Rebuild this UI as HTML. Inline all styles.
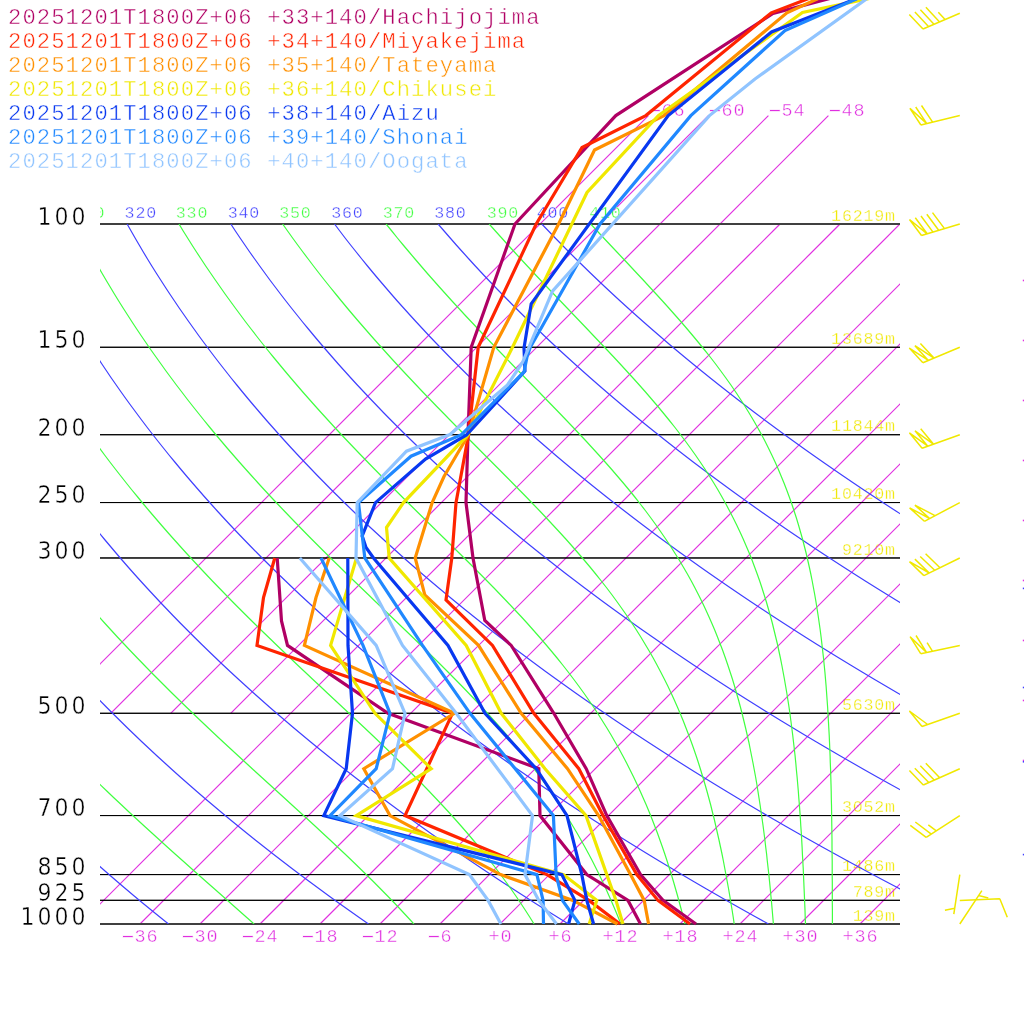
<!DOCTYPE html><html><head><meta charset="utf-8"><title>Emagram</title><style>html,body{margin:0;padding:0;background:#fff}svg{display:block}text{white-space:pre}</style></head><body>
<svg width="1024" height="1024" viewBox="0 0 1024 1024">
<rect width="1024" height="1024" fill="#fff"/>
<defs><clipPath id="cp"><rect x="100" y="224" width="800" height="700"/></clipPath><clipPath id="cl"><rect x="100" y="0" width="800" height="924"/></clipPath></defs>
<text y="220.70" font-family="'Liberation Mono',monospace" font-size="16.65px" fill="#f0e800" stroke="#fff" stroke-width="0.36" x="831.11" letter-spacing="0.810">16219m</text>
<text y="343.96" font-family="'Liberation Mono',monospace" font-size="16.65px" fill="#f0e800" stroke="#fff" stroke-width="0.36" x="831.11" letter-spacing="0.810">13689m</text>
<text y="431.42" font-family="'Liberation Mono',monospace" font-size="16.65px" fill="#f0e800" stroke="#fff" stroke-width="0.36" x="831.11" letter-spacing="0.810">11844m</text>
<text y="499.26" font-family="'Liberation Mono',monospace" font-size="16.65px" fill="#f0e800" stroke="#fff" stroke-width="0.36" x="831.11" letter-spacing="0.810">10420m</text>
<text y="554.68" font-family="'Liberation Mono',monospace" font-size="16.65px" fill="#f0e800" stroke="#fff" stroke-width="0.36" x="841.90" letter-spacing="0.810">9210m</text>
<text y="709.98" font-family="'Liberation Mono',monospace" font-size="16.65px" fill="#f0e800" stroke="#fff" stroke-width="0.36" x="841.90" letter-spacing="0.810">5630m</text>
<text y="812.27" font-family="'Liberation Mono',monospace" font-size="16.65px" fill="#f0e800" stroke="#fff" stroke-width="0.36" x="841.90" letter-spacing="0.810">3052m</text>
<text y="871.29" font-family="'Liberation Mono',monospace" font-size="16.65px" fill="#f0e800" stroke="#fff" stroke-width="0.36" x="841.90" letter-spacing="0.810">1486m</text>
<text y="897.00" font-family="'Liberation Mono',monospace" font-size="16.65px" fill="#f0e800" stroke="#fff" stroke-width="0.36" x="852.70" letter-spacing="0.810">789m</text>
<text y="920.70" font-family="'Liberation Mono',monospace" font-size="16.65px" fill="#f0e800" stroke="#fff" stroke-width="0.36" x="852.70" letter-spacing="0.810">139m</text>
<g stroke="#e030e0" stroke-width="1.2" fill="none">
<g clip-path="url(#cl)">
<line x1="80.0" y1="924" x2="780.0" y2="224"/>
<line x1="140.0" y1="924" x2="840.0" y2="224"/>
<line x1="200.0" y1="924" x2="900.0" y2="224"/>
<line x1="260.0" y1="924" x2="960.0" y2="224"/>
<line x1="320.0" y1="924" x2="1020.0" y2="224"/>
<line x1="380.0" y1="924" x2="1080.0" y2="224"/>
<line x1="440.0" y1="924" x2="1140.0" y2="224"/>
<line x1="500.0" y1="924" x2="1200.0" y2="224"/>
<line x1="560.0" y1="924" x2="1260.0" y2="224"/>
<line x1="620.0" y1="924" x2="1320.0" y2="224"/>
<line x1="680.0" y1="924" x2="1380.0" y2="224"/>
<line x1="740.0" y1="924" x2="1440.0" y2="224"/>
<line x1="800.0" y1="924" x2="1500.0" y2="224"/>
<line x1="860.0" y1="924" x2="1560.0" y2="224"/>
<line x1="50.7" y1="713.3" x2="648.4" y2="115.6"/>
<line x1="110.7" y1="713.3" x2="708.4" y2="115.6"/>
<line x1="170.7" y1="713.3" x2="768.4" y2="115.6"/>
<line x1="230.7" y1="713.3" x2="828.4" y2="115.6"/>
</g></g>
<g stroke="#000" stroke-width="1">
<line x1="100" y1="347.26" x2="900" y2="347.26"/>
<line x1="100" y1="347.26" x2="900" y2="347.26"/>
<line x1="100" y1="434.72" x2="900" y2="434.72"/>
<line x1="100" y1="434.72" x2="900" y2="434.72"/>
<line x1="100" y1="502.56" x2="900" y2="502.56"/>
<line x1="100" y1="502.56" x2="900" y2="502.56"/>
<line x1="100" y1="557.98" x2="900" y2="557.98"/>
<line x1="100" y1="557.98" x2="900" y2="557.98"/>
<line x1="100" y1="713.28" x2="900" y2="713.28"/>
<line x1="100" y1="713.28" x2="900" y2="713.28"/>
<line x1="100" y1="815.57" x2="900" y2="815.57"/>
<line x1="100" y1="815.57" x2="900" y2="815.57"/>
<line x1="100" y1="874.59" x2="900" y2="874.59"/>
<line x1="100" y1="874.59" x2="900" y2="874.59"/>
<line x1="100" y1="900.30" x2="900" y2="900.30"/>
<line x1="100" y1="900.30" x2="900" y2="900.30"/>
</g>
<g stroke="#404040" stroke-width="2"><line x1="100" y1="224" x2="900" y2="224"/><line x1="100" y1="924" x2="900" y2="924"/></g>
<g clip-path="url(#cp)" fill="none" stroke-width="1.2">
<polyline stroke="#4040ff" points="-391.2,224.0 -390.7,231.0 -390.1,238.0 -389.5,245.0 -388.8,252.0 -388.1,259.0 -387.3,266.0 -386.5,273.0 -385.6,280.0 -384.7,287.0 -383.7,294.0 -382.7,301.0 -381.6,308.0 -380.5,315.0 -379.3,322.0 -378.1,329.0 -376.8,336.0 -375.4,343.0 -374.0,350.0 -372.5,357.0 -371.0,364.0 -369.4,371.0 -367.8,378.0 -366.1,385.0 -364.4,392.0 -362.6,399.0 -360.7,406.0 -358.8,413.0 -356.8,420.0 -354.8,427.0 -352.7,434.0 -350.5,441.0 -348.3,448.0 -346.0,455.0 -343.7,462.0 -341.3,469.0 -338.8,476.0 -336.3,483.0 -333.7,490.0 -331.1,497.0 -328.4,504.0 -325.6,511.0 -322.7,518.0 -319.8,525.0 -316.9,532.0 -313.8,539.0 -310.7,546.0 -307.5,553.0 -304.3,560.0 -301.0,567.0 -297.6,574.0 -294.2,581.0 -290.7,588.0 -287.1,595.0 -283.4,602.0 -279.7,609.0 -275.9,616.0 -272.1,623.0 -268.1,630.0 -264.1,637.0 -260.0,644.0 -255.9,651.0 -251.7,658.0 -247.4,665.0 -243.0,672.0 -238.5,679.0 -234.0,686.0 -229.4,693.0 -224.7,700.0 -220.0,707.0 -215.1,714.0 -210.2,721.0 -205.2,728.0 -200.2,735.0 -195.0,742.0 -189.8,749.0 -184.5,756.0 -179.1,763.0 -173.6,770.0 -168.1,777.0 -162.5,784.0 -156.7,791.0 -150.9,798.0 -145.0,805.0 -139.1,812.0 -133.0,819.0 -126.9,826.0 -120.6,833.0 -114.3,840.0 -107.9,847.0 -101.4,854.0 -94.8,861.0 -88.2,868.0 -81.4,875.0 -74.6,882.0 -67.6,889.0 -60.6,896.0 -53.4,903.0 -46.2,910.0 -38.9,917.0 -31.5,924.0"/>
<polyline stroke="#4040ff" points="-287.5,224.0 -286.3,231.0 -285.1,238.0 -283.8,245.0 -282.4,252.0 -281.0,259.0 -279.5,266.0 -278.0,273.0 -276.4,280.0 -274.7,287.0 -273.0,294.0 -271.3,301.0 -269.5,308.0 -267.6,315.0 -265.6,322.0 -263.7,329.0 -261.6,336.0 -259.5,343.0 -257.3,350.0 -255.1,357.0 -252.8,364.0 -250.4,371.0 -248.0,378.0 -245.6,385.0 -243.0,392.0 -240.4,399.0 -237.7,406.0 -235.0,413.0 -232.2,420.0 -229.4,427.0 -226.4,434.0 -223.4,441.0 -220.4,448.0 -217.3,455.0 -214.1,462.0 -210.8,469.0 -207.5,476.0 -204.1,483.0 -200.7,490.0 -197.1,497.0 -193.5,504.0 -189.9,511.0 -186.1,518.0 -182.3,525.0 -178.4,532.0 -174.5,539.0 -170.5,546.0 -166.4,553.0 -162.2,560.0 -157.9,567.0 -153.6,574.0 -149.2,581.0 -144.8,588.0 -140.2,595.0 -135.6,602.0 -130.9,609.0 -126.1,616.0 -121.3,623.0 -116.4,630.0 -111.4,637.0 -106.3,644.0 -101.1,651.0 -95.9,658.0 -90.5,665.0 -85.1,672.0 -79.6,679.0 -74.1,686.0 -68.4,693.0 -62.7,700.0 -56.8,707.0 -50.9,714.0 -44.9,721.0 -38.9,728.0 -32.7,735.0 -26.4,742.0 -20.1,749.0 -13.7,756.0 -7.2,763.0 -0.6,770.0 6.1,777.0 12.9,784.0 19.8,791.0 26.8,798.0 33.8,805.0 41.0,812.0 48.2,819.0 55.5,826.0 63.0,833.0 70.5,840.0 78.1,847.0 85.9,854.0 93.7,861.0 101.6,868.0 109.6,875.0 117.7,882.0 125.9,889.0 134.2,896.0 142.6,903.0 151.2,910.0 159.8,917.0 168.5,924.0"/>
<polyline stroke="#4040ff" points="-183.9,224.0 -182.0,231.0 -180.0,238.0 -178.0,245.0 -176.0,252.0 -173.8,259.0 -171.7,266.0 -169.4,273.0 -167.1,280.0 -164.8,287.0 -162.3,294.0 -159.8,301.0 -157.3,308.0 -154.7,315.0 -152.0,322.0 -149.3,329.0 -146.4,336.0 -143.6,343.0 -140.6,350.0 -137.6,357.0 -134.6,364.0 -131.4,371.0 -128.2,378.0 -125.0,385.0 -121.6,392.0 -118.2,399.0 -114.8,406.0 -111.2,413.0 -107.6,420.0 -103.9,427.0 -100.2,434.0 -96.4,441.0 -92.5,448.0 -88.5,455.0 -84.5,462.0 -80.4,469.0 -76.2,476.0 -71.9,483.0 -67.6,490.0 -63.2,497.0 -58.7,504.0 -54.1,511.0 -49.5,518.0 -44.8,525.0 -40.0,532.0 -35.1,539.0 -30.2,546.0 -25.2,553.0 -20.1,560.0 -14.9,567.0 -9.6,574.0 -4.3,581.0 1.1,588.0 6.6,595.0 12.2,602.0 17.9,609.0 23.6,616.0 29.5,623.0 35.4,630.0 41.4,637.0 47.5,644.0 53.7,651.0 59.9,658.0 66.3,665.0 72.7,672.0 79.3,679.0 85.9,686.0 92.6,693.0 99.4,700.0 106.3,707.0 113.3,714.0 120.4,721.0 127.5,728.0 134.8,735.0 142.1,742.0 149.6,749.0 157.1,756.0 164.8,763.0 172.5,770.0 180.3,777.0 188.3,784.0 196.3,791.0 204.4,798.0 212.7,805.0 221.0,812.0 229.4,819.0 238.0,826.0 246.6,833.0 255.3,840.0 264.2,847.0 273.1,854.0 282.2,861.0 291.3,868.0 300.6,875.0 310.0,882.0 319.5,889.0 329.0,896.0 338.7,903.0 348.6,910.0 358.5,917.0 368.5,924.0"/>
<polyline stroke="#4040ff" points="-80.2,224.0 -77.6,231.0 -75.0,238.0 -72.3,245.0 -69.5,252.0 -66.7,259.0 -63.8,266.0 -60.9,273.0 -57.9,280.0 -54.8,287.0 -51.6,294.0 -48.4,301.0 -45.1,308.0 -41.8,315.0 -38.3,322.0 -34.8,329.0 -31.3,336.0 -27.7,343.0 -24.0,350.0 -20.2,357.0 -16.3,364.0 -12.4,371.0 -8.4,378.0 -4.4,385.0 -0.3,392.0 3.9,399.0 8.2,406.0 12.6,413.0 17.0,420.0 21.5,427.0 26.1,434.0 30.7,441.0 35.5,448.0 40.3,455.0 45.2,462.0 50.1,469.0 55.2,476.0 60.3,483.0 65.5,490.0 70.8,497.0 76.1,504.0 81.6,511.0 87.1,518.0 92.7,525.0 98.4,532.0 104.2,539.0 110.1,546.0 116.0,553.0 122.0,560.0 128.1,567.0 134.3,574.0 140.6,581.0 147.0,588.0 153.5,595.0 160.0,602.0 166.7,609.0 173.4,616.0 180.2,623.0 187.2,630.0 194.2,637.0 201.3,644.0 208.5,651.0 215.8,658.0 223.1,665.0 230.6,672.0 238.2,679.0 245.9,686.0 253.6,693.0 261.5,700.0 269.4,707.0 277.5,714.0 285.7,721.0 293.9,728.0 302.3,735.0 310.7,742.0 319.3,749.0 328.0,756.0 336.7,763.0 345.6,770.0 354.6,777.0 363.7,784.0 372.8,791.0 382.1,798.0 391.5,805.0 401.0,812.0 410.7,819.0 420.4,826.0 430.2,833.0 440.2,840.0 450.2,847.0 460.4,854.0 470.7,861.0 481.1,868.0 491.6,875.0 502.2,882.0 513.0,889.0 523.9,896.0 534.8,903.0 545.9,910.0 557.2,917.0 568.5,924.0"/>
<polyline stroke="#4040ff" points="23.5,224.0 26.7,231.0 30.0,238.0 33.4,245.0 36.9,252.0 40.4,259.0 44.0,266.0 47.7,273.0 51.4,280.0 55.2,287.0 59.1,294.0 63.0,301.0 67.1,308.0 71.1,315.0 75.3,322.0 79.6,329.0 83.9,336.0 88.3,343.0 92.7,350.0 97.3,357.0 101.9,364.0 106.6,371.0 111.3,378.0 116.2,385.0 121.1,392.0 126.1,399.0 131.2,406.0 136.4,413.0 141.6,420.0 146.9,427.0 152.3,434.0 157.8,441.0 163.4,448.0 169.0,455.0 174.8,462.0 180.6,469.0 186.5,476.0 192.5,483.0 198.6,490.0 204.7,497.0 211.0,504.0 217.3,511.0 223.7,518.0 230.2,525.0 236.8,532.0 243.5,539.0 250.3,546.0 257.2,553.0 264.1,560.0 271.2,567.0 278.3,574.0 285.6,581.0 292.9,588.0 300.3,595.0 307.9,602.0 315.5,609.0 323.2,616.0 331.0,623.0 338.9,630.0 346.9,637.0 355.0,644.0 363.2,651.0 371.6,658.0 380.0,665.0 388.5,672.0 397.1,679.0 405.8,686.0 414.6,693.0 423.5,700.0 432.6,707.0 441.7,714.0 450.9,721.0 460.3,728.0 469.8,735.0 479.3,742.0 489.0,749.0 498.8,756.0 508.7,763.0 518.7,770.0 528.8,777.0 539.0,784.0 549.4,791.0 559.8,798.0 570.4,805.0 581.1,812.0 591.9,819.0 602.8,826.0 613.9,833.0 625.0,840.0 636.3,847.0 647.7,854.0 659.2,861.0 670.9,868.0 682.6,875.0 694.5,882.0 706.5,889.0 718.7,896.0 730.9,903.0 743.3,910.0 755.8,917.0 768.5,924.0"/>
<polyline stroke="#4040ff" points="127.1,224.0 131.1,231.0 135.1,238.0 139.2,245.0 143.3,252.0 147.5,259.0 151.8,266.0 156.2,273.0 160.7,280.0 165.2,287.0 169.8,294.0 174.5,301.0 179.2,308.0 184.1,315.0 189.0,322.0 194.0,329.0 199.0,336.0 204.2,343.0 209.4,350.0 214.7,357.0 220.1,364.0 225.6,371.0 231.1,378.0 236.8,385.0 242.5,392.0 248.3,399.0 254.2,406.0 260.2,413.0 266.2,420.0 272.4,427.0 278.6,434.0 284.9,441.0 291.3,448.0 297.8,455.0 304.4,462.0 311.1,469.0 317.8,476.0 324.7,483.0 331.6,490.0 338.7,497.0 345.8,504.0 353.0,511.0 360.3,518.0 367.7,525.0 375.3,532.0 382.9,539.0 390.6,546.0 398.4,553.0 406.2,560.0 414.2,567.0 422.3,574.0 430.5,581.0 438.8,588.0 447.2,595.0 455.7,602.0 464.3,609.0 473.0,616.0 481.8,623.0 490.7,630.0 499.7,637.0 508.8,644.0 518.0,651.0 527.4,658.0 536.8,665.0 546.3,672.0 556.0,679.0 565.8,686.0 575.6,693.0 585.6,700.0 595.7,707.0 605.9,714.0 616.2,721.0 626.7,728.0 637.2,735.0 647.9,742.0 658.7,749.0 669.6,756.0 680.6,763.0 691.7,770.0 703.0,777.0 714.4,784.0 725.9,791.0 737.5,798.0 749.3,805.0 761.1,812.0 773.1,819.0 785.2,826.0 797.5,833.0 809.8,840.0 822.3,847.0 835.0,854.0 847.7,861.0 860.6,868.0 873.6,875.0 886.8,882.0 900.1,889.0 913.5,896.0 927.0,903.0 940.7,910.0 954.5,917.0 968.5,924.0"/>
<polyline stroke="#4040ff" points="230.8,224.0 235.4,231.0 240.1,238.0 244.9,245.0 249.7,252.0 254.7,259.0 259.7,266.0 264.8,273.0 269.9,280.0 275.2,287.0 280.5,294.0 285.9,301.0 291.4,308.0 297.0,315.0 302.6,322.0 308.4,329.0 314.2,336.0 320.1,343.0 326.1,350.0 332.2,357.0 338.3,364.0 344.6,371.0 350.9,378.0 357.3,385.0 363.9,392.0 370.5,399.0 377.2,406.0 383.9,413.0 390.8,420.0 397.8,427.0 404.8,434.0 412.0,441.0 419.2,448.0 426.6,455.0 434.0,462.0 441.5,469.0 449.2,476.0 456.9,483.0 464.7,490.0 472.6,497.0 480.6,504.0 488.7,511.0 497.0,518.0 505.3,525.0 513.7,532.0 522.2,539.0 530.8,546.0 539.5,553.0 548.4,560.0 557.3,567.0 566.3,574.0 575.5,581.0 584.7,588.0 594.1,595.0 603.5,602.0 613.1,609.0 622.8,616.0 632.5,623.0 642.4,630.0 652.5,637.0 662.6,644.0 672.8,651.0 683.2,658.0 693.6,665.0 704.2,672.0 714.9,679.0 725.7,686.0 736.6,693.0 747.7,700.0 758.9,707.0 770.1,714.0 781.5,721.0 793.1,728.0 804.7,735.0 816.5,742.0 828.4,749.0 840.4,756.0 852.6,763.0 864.8,770.0 877.2,777.0 889.8,784.0 902.4,791.0 915.2,798.0 928.1,805.0 941.2,812.0 954.3,819.0 967.7,826.0 981.1,833.0 994.7,840.0 1008.4,847.0 1022.2,854.0 1036.2,861.0 1050.4,868.0 1064.6,875.0 1079.0,882.0 1093.6,889.0 1108.3,896.0 1123.1,903.0 1138.1,910.0 1153.2,917.0 1168.5,924.0"/>
<polyline stroke="#4040ff" points="334.5,224.0 339.8,231.0 345.1,238.0 350.6,245.0 356.2,252.0 361.8,259.0 367.5,266.0 373.3,273.0 379.2,280.0 385.2,287.0 391.2,294.0 397.3,301.0 403.6,308.0 409.9,315.0 416.3,322.0 422.8,329.0 429.3,336.0 436.0,343.0 442.8,350.0 449.6,357.0 456.6,364.0 463.6,371.0 470.7,378.0 477.9,385.0 485.2,392.0 492.6,399.0 500.1,406.0 507.7,413.0 515.4,420.0 523.2,427.0 531.1,434.0 539.1,441.0 547.2,448.0 555.3,455.0 563.6,462.0 572.0,469.0 580.5,476.0 589.1,483.0 597.8,490.0 606.6,497.0 615.5,504.0 624.5,511.0 633.6,518.0 642.8,525.0 652.1,532.0 661.5,539.0 671.1,546.0 680.7,553.0 690.5,560.0 700.3,567.0 710.3,574.0 720.4,581.0 730.6,588.0 740.9,595.0 751.3,602.0 761.9,609.0 772.5,616.0 783.3,623.0 794.2,630.0 805.2,637.0 816.3,644.0 827.6,651.0 839.0,658.0 850.5,665.0 862.1,672.0 873.8,679.0 885.7,686.0 897.6,693.0 909.8,700.0 922.0,707.0 934.4,714.0 946.8,721.0 959.5,728.0 972.2,735.0 985.1,742.0 998.1,749.0 1011.2,756.0 1024.5,763.0 1037.9,770.0 1051.4,777.0 1065.1,784.0 1078.9,791.0 1092.9,798.0 1107.0,805.0 1121.2,812.0 1135.6,819.0 1150.1,826.0 1164.7,833.0 1179.5,840.0 1194.4,847.0 1209.5,854.0 1224.8,861.0 1240.1,868.0 1255.6,875.0 1271.3,882.0 1287.1,889.0 1303.1,896.0 1319.2,903.0 1335.5,910.0 1351.9,917.0 1368.5,924.0"/>
<polyline stroke="#4040ff" points="438.1,224.0 444.1,231.0 450.2,238.0 456.3,245.0 462.6,252.0 468.9,259.0 475.3,266.0 481.8,273.0 488.4,280.0 495.1,287.0 501.9,294.0 508.8,301.0 515.7,308.0 522.8,315.0 529.9,322.0 537.2,329.0 544.5,336.0 551.9,343.0 559.4,350.0 567.1,357.0 574.8,364.0 582.6,371.0 590.5,378.0 598.5,385.0 606.6,392.0 614.8,399.0 623.1,406.0 631.5,413.0 640.0,420.0 648.6,427.0 657.4,434.0 666.2,441.0 675.1,448.0 684.1,455.0 693.2,462.0 702.5,469.0 711.8,476.0 721.3,483.0 730.8,490.0 740.5,497.0 750.3,504.0 760.2,511.0 770.2,518.0 780.3,525.0 790.5,532.0 800.9,539.0 811.3,546.0 821.9,553.0 832.6,560.0 843.4,567.0 854.3,574.0 865.3,581.0 876.5,588.0 887.8,595.0 899.2,602.0 910.7,609.0 922.3,616.0 934.1,623.0 946.0,630.0 958.0,637.0 970.1,644.0 982.4,651.0 994.8,658.0 1007.3,665.0 1019.9,672.0 1032.7,679.0 1045.6,686.0 1058.7,693.0 1071.8,700.0 1085.1,707.0 1098.6,714.0 1112.1,721.0 1125.8,728.0 1139.7,735.0 1153.7,742.0 1167.8,749.0 1182.0,756.0 1196.4,763.0 1211.0,770.0 1225.7,777.0 1240.5,784.0 1255.5,791.0 1270.6,798.0 1285.8,805.0 1301.2,812.0 1316.8,819.0 1332.5,826.0 1348.3,833.0 1364.3,840.0 1380.5,847.0 1396.8,854.0 1413.3,861.0 1429.9,868.0 1446.7,875.0 1463.6,882.0 1480.7,889.0 1497.9,896.0 1515.3,903.0 1532.9,910.0 1550.6,917.0 1568.5,924.0"/>
<polyline stroke="#4040ff" points="541.8,224.0 548.5,231.0 555.2,238.0 562.1,245.0 569.0,252.0 576.0,259.0 583.2,266.0 590.4,273.0 597.7,280.0 605.1,287.0 612.6,294.0 620.2,301.0 627.9,308.0 635.7,315.0 643.6,322.0 651.6,329.0 659.7,336.0 667.8,343.0 676.1,350.0 684.5,357.0 693.0,364.0 701.6,371.0 710.3,378.0 719.1,385.0 728.0,392.0 737.0,399.0 746.1,406.0 755.3,413.0 764.6,420.0 774.1,427.0 783.6,434.0 793.3,441.0 803.0,448.0 812.9,455.0 822.9,462.0 833.0,469.0 843.2,476.0 853.5,483.0 863.9,490.0 874.5,497.0 885.1,504.0 895.9,511.0 906.8,518.0 917.8,525.0 928.9,532.0 940.2,539.0 951.6,546.0 963.1,553.0 974.7,560.0 986.4,567.0 998.3,574.0 1010.3,581.0 1022.4,588.0 1034.6,595.0 1047.0,602.0 1059.5,609.0 1072.1,616.0 1084.9,623.0 1097.7,630.0 1110.7,637.0 1123.9,644.0 1137.2,651.0 1150.6,658.0 1164.1,665.0 1177.8,672.0 1191.6,679.0 1205.6,686.0 1219.7,693.0 1233.9,700.0 1248.3,707.0 1262.8,714.0 1277.4,721.0 1292.2,728.0 1307.2,735.0 1322.3,742.0 1337.5,749.0 1352.9,756.0 1368.4,763.0 1384.1,770.0 1399.9,777.0 1415.9,784.0 1432.0,791.0 1448.3,798.0 1464.7,805.0 1481.3,812.0 1498.0,819.0 1514.9,826.0 1532.0,833.0 1549.2,840.0 1566.6,847.0 1584.1,854.0 1601.8,861.0 1619.6,868.0 1637.7,875.0 1655.9,882.0 1674.2,889.0 1692.7,896.0 1711.4,903.0 1730.3,910.0 1749.3,917.0 1768.5,924.0"/>
<polyline stroke="#40ff40" points="-339.4,224.0 -338.5,231.0 -337.6,238.0 -336.6,245.0 -335.6,252.0 -334.5,259.0 -333.4,266.0 -332.2,273.0 -331.0,280.0 -329.7,287.0 -328.4,294.0 -327.0,301.0 -325.5,308.0 -324.0,315.0 -322.5,322.0 -320.9,329.0 -319.2,336.0 -317.5,343.0 -315.7,350.0 -313.8,357.0 -311.9,364.0 -309.9,371.0 -307.9,378.0 -305.8,385.0 -303.7,392.0 -301.5,399.0 -299.2,406.0 -296.9,413.0 -294.5,420.0 -292.1,427.0 -289.6,434.0 -287.0,441.0 -284.4,448.0 -281.7,455.0 -278.9,462.0 -276.1,469.0 -273.2,476.0 -270.2,483.0 -267.2,490.0 -264.1,497.0 -260.9,504.0 -257.7,511.0 -254.4,518.0 -251.1,525.0 -247.6,532.0 -244.1,539.0 -240.6,546.0 -236.9,553.0 -233.2,560.0 -229.5,567.0 -225.6,574.0 -221.7,581.0 -217.7,588.0 -213.7,595.0 -209.5,602.0 -205.3,609.0 -201.0,616.0 -196.7,623.0 -192.2,630.0 -187.7,637.0 -183.2,644.0 -178.5,651.0 -173.8,658.0 -168.9,665.0 -164.1,672.0 -159.1,679.0 -154.0,686.0 -148.9,693.0 -143.7,700.0 -138.4,707.0 -133.1,714.0 -127.6,721.0 -122.1,728.0 -116.5,735.0 -110.8,742.0 -105.0,749.0 -99.1,756.0 -93.2,763.0 -87.2,770.0 -81.1,777.0 -74.9,784.0 -68.6,791.0 -62.2,798.0 -55.8,805.0 -49.3,812.0 -42.7,819.0 -36.0,826.0 -29.2,833.0 -22.3,840.0 -15.4,847.0 -8.3,854.0 -1.2,861.0 6.0,868.0 13.2,875.0 20.6,882.0 28.0,889.0 35.5,896.0 43.1,903.0 50.7,910.0 58.4,917.0 66.2,924.0"/>
<polyline stroke="#40ff40" points="-235.7,224.0 -234.2,231.0 -232.6,238.0 -230.9,245.0 -229.2,252.0 -227.4,259.0 -225.6,266.0 -223.7,273.0 -221.7,280.0 -219.7,287.0 -217.7,294.0 -215.6,301.0 -213.4,308.0 -211.1,315.0 -208.8,322.0 -206.5,329.0 -204.0,336.0 -201.5,343.0 -199.0,350.0 -196.4,357.0 -193.7,364.0 -190.9,371.0 -188.1,378.0 -185.3,385.0 -182.3,392.0 -179.3,399.0 -176.3,406.0 -173.1,413.0 -169.9,420.0 -166.6,427.0 -163.3,434.0 -159.9,441.0 -156.4,448.0 -152.9,455.0 -149.3,462.0 -145.6,469.0 -141.8,476.0 -138.0,483.0 -134.1,490.0 -130.2,497.0 -126.1,504.0 -122.0,511.0 -117.8,518.0 -113.6,525.0 -109.2,532.0 -104.8,539.0 -100.3,546.0 -95.8,553.0 -91.1,560.0 -86.4,567.0 -81.6,574.0 -76.8,581.0 -71.8,588.0 -66.8,595.0 -61.7,602.0 -56.5,609.0 -51.3,616.0 -45.9,623.0 -40.5,630.0 -35.0,637.0 -29.4,644.0 -23.8,651.0 -18.0,658.0 -12.2,665.0 -6.3,672.0 -0.3,679.0 5.8,686.0 12.0,693.0 18.2,700.0 24.5,707.0 30.9,714.0 37.4,721.0 44.0,728.0 50.7,735.0 57.4,742.0 64.2,749.0 71.1,756.0 78.1,763.0 85.2,770.0 92.3,777.0 99.5,784.0 106.8,791.0 114.1,798.0 121.6,805.0 129.0,812.0 136.6,819.0 144.2,826.0 151.9,833.0 159.6,840.0 167.3,847.0 175.1,854.0 183.0,861.0 190.8,868.0 198.7,875.0 206.6,882.0 214.6,889.0 222.5,896.0 230.4,903.0 238.3,910.0 246.2,917.0 254.1,924.0"/>
<polyline stroke="#40ff40" points="-132.0,224.0 -129.8,231.0 -127.5,238.0 -125.2,245.0 -122.8,252.0 -120.3,259.0 -117.7,266.0 -115.1,273.0 -112.5,280.0 -109.8,287.0 -107.0,294.0 -104.1,301.0 -101.2,308.0 -98.2,315.0 -95.2,322.0 -92.1,329.0 -88.9,336.0 -85.6,343.0 -82.3,350.0 -78.9,357.0 -75.5,364.0 -71.9,371.0 -68.3,378.0 -64.7,385.0 -61.0,392.0 -57.1,399.0 -53.3,406.0 -49.3,413.0 -45.3,420.0 -41.2,427.0 -37.1,434.0 -32.8,441.0 -28.5,448.0 -24.1,455.0 -19.7,462.0 -15.1,469.0 -10.5,476.0 -5.8,483.0 -1.1,490.0 3.8,497.0 8.7,504.0 13.7,511.0 18.8,518.0 23.9,525.0 29.2,532.0 34.5,539.0 39.9,546.0 45.4,553.0 50.9,560.0 56.6,567.0 62.3,574.0 68.1,581.0 74.0,588.0 79.9,595.0 86.0,602.0 92.1,609.0 98.3,616.0 104.6,623.0 111.0,630.0 117.4,637.0 124.0,644.0 130.6,651.0 137.3,658.0 144.1,665.0 150.9,672.0 157.9,679.0 164.9,686.0 171.9,693.0 179.1,700.0 186.3,707.0 193.6,714.0 200.9,721.0 208.3,728.0 215.7,735.0 223.2,742.0 230.8,749.0 238.4,756.0 246.0,763.0 253.6,770.0 261.3,777.0 269.0,784.0 276.7,791.0 284.4,798.0 292.0,805.0 299.7,812.0 307.4,819.0 315.0,826.0 322.5,833.0 330.1,840.0 337.5,847.0 345.0,854.0 352.3,861.0 359.5,868.0 366.7,875.0 373.8,882.0 380.7,889.0 387.6,896.0 394.4,903.0 401.0,910.0 407.5,917.0 413.9,924.0"/>
<polyline stroke="#40ff40" points="-28.4,224.0 -25.5,231.0 -22.5,238.0 -19.4,245.0 -16.3,252.0 -13.2,259.0 -9.9,266.0 -6.6,273.0 -3.2,280.0 0.2,287.0 3.7,294.0 7.3,301.0 11.0,308.0 14.7,315.0 18.5,322.0 22.4,329.0 26.3,336.0 30.3,343.0 34.4,350.0 38.5,357.0 42.8,364.0 47.1,371.0 51.4,378.0 55.9,385.0 60.4,392.0 65.0,399.0 69.7,406.0 74.5,413.0 79.3,420.0 84.2,427.0 89.2,434.0 94.3,441.0 99.4,448.0 104.6,455.0 109.9,462.0 115.3,469.0 120.8,476.0 126.3,483.0 131.9,490.0 137.7,497.0 143.4,504.0 149.3,511.0 155.3,518.0 161.3,525.0 167.4,532.0 173.6,539.0 179.9,546.0 186.2,553.0 192.7,560.0 199.2,567.0 205.8,574.0 212.4,581.0 219.2,588.0 226.0,595.0 232.8,602.0 239.8,609.0 246.8,616.0 253.9,623.0 261.0,630.0 268.3,637.0 275.5,644.0 282.8,651.0 290.2,658.0 297.5,665.0 305.0,672.0 312.4,679.0 319.9,686.0 327.3,693.0 334.8,700.0 342.3,707.0 349.8,714.0 357.2,721.0 364.7,728.0 372.1,735.0 379.4,742.0 386.7,749.0 393.9,756.0 401.1,763.0 408.2,770.0 415.2,777.0 422.1,784.0 428.9,791.0 435.5,798.0 442.1,805.0 448.6,812.0 454.9,819.0 461.1,826.0 467.2,833.0 473.1,840.0 479.0,847.0 484.6,854.0 490.2,861.0 495.6,868.0 500.9,875.0 506.0,882.0 511.0,889.0 515.9,896.0 520.6,903.0 525.2,910.0 529.7,917.0 534.1,924.0"/>
<polyline stroke="#40ff40" points="75.3,224.0 78.9,231.0 82.6,238.0 86.3,245.0 90.1,252.0 94.0,259.0 97.9,266.0 101.9,273.0 106.0,280.0 110.2,287.0 114.4,294.0 118.7,301.0 123.1,308.0 127.6,315.0 132.1,322.0 136.7,329.0 141.4,336.0 146.2,343.0 151.0,350.0 156.0,357.0 161.0,364.0 166.0,371.0 171.2,378.0 176.4,385.0 181.8,392.0 187.1,399.0 192.6,406.0 198.2,413.0 203.8,420.0 209.5,427.0 215.3,434.0 221.2,441.0 227.1,448.0 233.2,455.0 239.3,462.0 245.5,469.0 251.8,476.0 258.1,483.0 264.5,490.0 271.0,497.0 277.6,504.0 284.3,511.0 291.0,518.0 297.8,525.0 304.6,532.0 311.5,539.0 318.5,546.0 325.5,553.0 332.6,560.0 339.8,567.0 346.9,574.0 354.1,581.0 361.4,588.0 368.7,595.0 375.9,602.0 383.2,609.0 390.5,616.0 397.8,623.0 405.1,630.0 412.4,637.0 419.6,644.0 426.8,651.0 433.9,658.0 441.0,665.0 448.0,672.0 454.9,679.0 461.8,686.0 468.5,693.0 475.2,700.0 481.7,707.0 488.1,714.0 494.4,721.0 500.6,728.0 506.7,735.0 512.6,742.0 518.4,749.0 524.0,756.0 529.5,763.0 534.9,770.0 540.1,777.0 545.2,784.0 550.1,791.0 554.9,798.0 559.6,805.0 564.2,812.0 568.6,819.0 572.8,826.0 577.0,833.0 581.0,840.0 584.9,847.0 588.7,854.0 592.4,861.0 595.9,868.0 599.4,875.0 602.7,882.0 606.0,889.0 609.1,896.0 612.2,903.0 615.2,910.0 618.1,917.0 620.9,924.0"/>
<polyline stroke="#40ff40" points="179.0,224.0 183.2,231.0 187.6,238.0 192.0,245.0 196.5,252.0 201.1,259.0 205.7,266.0 210.5,273.0 215.3,280.0 220.2,287.0 225.1,294.0 230.2,301.0 235.3,308.0 240.5,315.0 245.7,322.0 251.1,329.0 256.5,336.0 262.0,343.0 267.6,350.0 273.3,357.0 279.1,364.0 284.9,371.0 290.8,378.0 296.8,385.0 302.8,392.0 309.0,399.0 315.2,406.0 321.5,413.0 327.9,420.0 334.3,427.0 340.8,434.0 347.4,441.0 354.1,448.0 360.8,455.0 367.6,462.0 374.4,469.0 381.3,476.0 388.2,483.0 395.2,490.0 402.2,497.0 409.3,504.0 416.4,511.0 423.5,518.0 430.6,525.0 437.7,532.0 444.9,539.0 452.0,546.0 459.1,553.0 466.2,560.0 473.2,567.0 480.2,574.0 487.1,581.0 494.0,588.0 500.7,595.0 507.4,602.0 514.0,609.0 520.6,616.0 527.0,623.0 533.2,630.0 539.4,637.0 545.4,644.0 551.3,651.0 557.1,658.0 562.7,665.0 568.2,672.0 573.5,679.0 578.7,686.0 583.8,693.0 588.7,700.0 593.5,707.0 598.1,714.0 602.5,721.0 606.9,728.0 611.1,735.0 615.1,742.0 619.1,749.0 622.9,756.0 626.6,763.0 630.1,770.0 633.6,777.0 636.9,784.0 640.1,791.0 643.2,798.0 646.3,805.0 649.2,812.0 652.0,819.0 654.7,826.0 657.4,833.0 659.9,840.0 662.4,847.0 664.8,854.0 667.1,861.0 669.3,868.0 671.5,875.0 673.6,882.0 675.6,889.0 677.6,896.0 679.5,903.0 681.4,910.0 683.2,917.0 685.0,924.0"/>
<polyline stroke="#40ff40" points="282.6,224.0 287.6,231.0 292.6,238.0 297.7,245.0 302.9,252.0 308.2,259.0 313.5,266.0 318.9,273.0 324.4,280.0 330.0,287.0 335.7,294.0 341.4,301.0 347.2,308.0 353.1,315.0 359.1,322.0 365.2,329.0 371.3,336.0 377.5,343.0 383.8,350.0 390.1,357.0 396.5,364.0 403.0,371.0 409.6,378.0 416.2,385.0 422.8,392.0 429.6,399.0 436.3,406.0 443.2,413.0 450.0,420.0 456.9,427.0 463.8,434.0 470.8,441.0 477.8,448.0 484.7,455.0 491.7,462.0 498.7,469.0 505.6,476.0 512.5,483.0 519.4,490.0 526.3,497.0 533.0,504.0 539.8,511.0 546.4,518.0 552.9,525.0 559.4,532.0 565.8,539.0 572.0,546.0 578.1,553.0 584.1,560.0 590.0,567.0 595.7,574.0 601.3,581.0 606.8,588.0 612.1,595.0 617.2,602.0 622.2,609.0 627.1,616.0 631.8,623.0 636.4,630.0 640.8,637.0 645.0,644.0 649.2,651.0 653.2,658.0 657.0,665.0 660.7,672.0 664.3,679.0 667.8,686.0 671.1,693.0 674.3,700.0 677.4,707.0 680.4,714.0 683.3,721.0 686.0,728.0 688.7,735.0 691.3,742.0 693.8,749.0 696.2,756.0 698.5,763.0 700.7,770.0 702.8,777.0 704.9,784.0 706.9,791.0 708.8,798.0 710.7,805.0 712.4,812.0 714.2,819.0 715.8,826.0 717.4,833.0 719.0,840.0 720.5,847.0 722.0,854.0 723.4,861.0 724.7,868.0 726.0,875.0 727.3,882.0 728.6,889.0 729.8,896.0 730.9,903.0 732.1,910.0 733.2,917.0 734.2,924.0"/>
<polyline stroke="#40ff40" points="386.1,224.0 391.8,231.0 397.4,238.0 403.2,245.0 409.1,252.0 415.0,259.0 421.0,266.0 427.0,273.0 433.2,280.0 439.4,287.0 445.7,294.0 452.0,301.0 458.5,308.0 464.9,315.0 471.5,322.0 478.1,329.0 484.7,336.0 491.4,343.0 498.1,350.0 504.9,357.0 511.7,364.0 518.5,371.0 525.3,378.0 532.2,385.0 539.0,392.0 545.8,399.0 552.6,406.0 559.4,413.0 566.1,420.0 572.8,427.0 579.4,434.0 586.0,441.0 592.4,448.0 598.8,455.0 605.1,462.0 611.3,469.0 617.3,476.0 623.3,483.0 629.1,490.0 634.8,497.0 640.3,504.0 645.7,511.0 650.9,518.0 656.0,525.0 660.9,532.0 665.7,539.0 670.4,546.0 674.8,553.0 679.2,560.0 683.3,567.0 687.4,574.0 691.3,581.0 695.0,588.0 698.6,595.0 702.1,602.0 705.4,609.0 708.6,616.0 711.7,623.0 714.7,630.0 717.5,637.0 720.2,644.0 722.9,651.0 725.4,658.0 727.8,665.0 730.1,672.0 732.4,679.0 734.5,686.0 736.5,693.0 738.5,700.0 740.4,707.0 742.2,714.0 743.9,721.0 745.6,728.0 747.2,735.0 748.8,742.0 750.2,749.0 751.6,756.0 753.0,763.0 754.3,770.0 755.6,777.0 756.8,784.0 757.9,791.0 759.0,798.0 760.1,805.0 761.1,812.0 762.1,819.0 763.1,826.0 764.0,833.0 764.9,840.0 765.7,847.0 766.6,854.0 767.3,861.0 768.1,868.0 768.9,875.0 769.6,882.0 770.3,889.0 770.9,896.0 771.6,903.0 772.2,910.0 772.8,917.0 773.4,924.0"/>
<polyline stroke="#40ff40" points="489.2,224.0 495.4,231.0 501.7,238.0 508.0,245.0 514.4,252.0 520.8,259.0 527.3,266.0 533.8,273.0 540.4,280.0 547.0,287.0 553.7,294.0 560.4,301.0 567.1,308.0 573.8,315.0 580.5,322.0 587.2,329.0 593.8,336.0 600.5,343.0 607.1,350.0 613.7,357.0 620.2,364.0 626.6,371.0 633.0,378.0 639.3,385.0 645.5,392.0 651.5,399.0 657.5,406.0 663.3,413.0 669.0,420.0 674.6,427.0 680.0,434.0 685.3,441.0 690.4,448.0 695.4,455.0 700.2,462.0 704.9,469.0 709.4,476.0 713.8,483.0 718.0,490.0 722.0,497.0 725.9,504.0 729.6,511.0 733.2,518.0 736.7,525.0 740.0,532.0 743.2,539.0 746.2,546.0 749.2,553.0 752.0,560.0 754.6,567.0 757.2,574.0 759.7,581.0 762.0,588.0 764.2,595.0 766.4,602.0 768.4,609.0 770.4,616.0 772.3,623.0 774.0,630.0 775.7,637.0 777.4,644.0 778.9,651.0 780.4,658.0 781.8,665.0 783.1,672.0 784.4,679.0 785.6,686.0 786.8,693.0 787.9,700.0 789.0,707.0 790.0,714.0 790.9,721.0 791.8,728.0 792.7,735.0 793.5,742.0 794.3,749.0 795.1,756.0 795.8,763.0 796.4,770.0 797.1,777.0 797.7,784.0 798.3,791.0 798.8,798.0 799.4,805.0 799.9,812.0 800.4,819.0 800.8,826.0 801.3,833.0 801.7,840.0 802.1,847.0 802.4,854.0 802.8,861.0 803.2,868.0 803.5,875.0 803.8,882.0 804.1,889.0 804.4,896.0 804.7,903.0 805.0,910.0 805.2,917.0 805.5,924.0"/>
<polyline stroke="#40ff40" points="590.7,224.0 597.2,231.0 603.7,238.0 610.3,245.0 616.9,252.0 623.5,259.0 630.1,266.0 636.6,273.0 643.2,280.0 649.6,287.0 656.1,294.0 662.5,301.0 668.8,308.0 675.0,315.0 681.2,322.0 687.2,329.0 693.1,336.0 698.9,343.0 704.6,350.0 710.2,357.0 715.6,364.0 720.8,371.0 725.9,378.0 730.9,385.0 735.7,392.0 740.3,399.0 744.8,406.0 749.1,413.0 753.3,420.0 757.3,427.0 761.2,434.0 764.9,441.0 768.4,448.0 771.8,455.0 775.1,462.0 778.2,469.0 781.1,476.0 784.0,483.0 786.7,490.0 789.3,497.0 791.8,504.0 794.1,511.0 796.4,518.0 798.5,525.0 800.5,532.0 802.5,539.0 804.3,546.0 806.1,553.0 807.7,560.0 809.3,567.0 810.8,574.0 812.2,581.0 813.5,588.0 814.8,595.0 816.0,602.0 817.1,609.0 818.2,616.0 819.2,623.0 820.2,630.0 821.1,637.0 821.9,644.0 822.7,651.0 823.5,658.0 824.2,665.0 824.9,672.0 825.5,679.0 826.1,686.0 826.6,693.0 827.1,700.0 827.6,707.0 828.0,714.0 828.4,721.0 828.8,728.0 829.2,735.0 829.5,742.0 829.8,749.0 830.1,756.0 830.3,763.0 830.6,770.0 830.8,777.0 831.0,784.0 831.2,791.0 831.3,798.0 831.5,805.0 831.6,812.0 831.7,819.0 831.8,826.0 831.9,833.0 832.0,840.0 832.0,847.0 832.1,854.0 832.2,861.0 832.2,868.0 832.2,875.0 832.3,882.0 832.3,889.0 832.3,896.0 832.3,903.0 832.4,910.0 832.4,917.0 832.4,924.0"/>
</g>
<g clip-path="url(#cl)">
<text y="217.90" font-family="'Liberation Mono',monospace" font-size="16.65px" fill="#40ff40" stroke="#fff" stroke-width="0.36" x="73.00" letter-spacing="0.810">310</text>
<text y="217.90" font-family="'Liberation Mono',monospace" font-size="16.65px" fill="#4040ff" stroke="#fff" stroke-width="0.36" x="124.61" letter-spacing="0.810">320</text>
<text y="217.90" font-family="'Liberation Mono',monospace" font-size="16.65px" fill="#40ff40" stroke="#fff" stroke-width="0.36" x="175.81" letter-spacing="0.810">330</text>
<text y="217.90" font-family="'Liberation Mono',monospace" font-size="16.65px" fill="#4040ff" stroke="#fff" stroke-width="0.36" x="227.71" letter-spacing="0.810">340</text>
<text y="217.90" font-family="'Liberation Mono',monospace" font-size="16.65px" fill="#40ff40" stroke="#fff" stroke-width="0.36" x="279.20" letter-spacing="0.810">350</text>
<text y="217.90" font-family="'Liberation Mono',monospace" font-size="16.65px" fill="#4040ff" stroke="#fff" stroke-width="0.36" x="331.20" letter-spacing="0.810">360</text>
<text y="217.90" font-family="'Liberation Mono',monospace" font-size="16.65px" fill="#40ff40" stroke="#fff" stroke-width="0.36" x="382.70" letter-spacing="0.810">370</text>
<text y="217.90" font-family="'Liberation Mono',monospace" font-size="16.65px" fill="#4040ff" stroke="#fff" stroke-width="0.36" x="434.20" letter-spacing="0.810">380</text>
<text y="217.90" font-family="'Liberation Mono',monospace" font-size="16.65px" fill="#40ff40" stroke="#fff" stroke-width="0.36" x="486.70" letter-spacing="0.810">390</text>
<text y="217.90" font-family="'Liberation Mono',monospace" font-size="16.65px" fill="#4040ff" stroke="#fff" stroke-width="0.36" x="536.70" letter-spacing="0.810">400</text>
<text y="217.90" font-family="'Liberation Mono',monospace" font-size="16.65px" fill="#40ff40" stroke="#fff" stroke-width="0.36" x="589.20" letter-spacing="0.810">410</text>
</g>
<text y="942.30" font-family="'Liberation Mono',monospace" font-size="18.50px" fill="#e030e0" stroke="#fff" stroke-width="0.40"><tspan x="116.34" textLength="23.31" lengthAdjust="spacingAndGlyphs">-</tspan><tspan x="134.45" letter-spacing="0.900">36</tspan></text>
<text y="942.30" font-family="'Liberation Mono',monospace" font-size="18.50px" fill="#e030e0" stroke="#fff" stroke-width="0.40"><tspan x="176.34" textLength="23.31" lengthAdjust="spacingAndGlyphs">-</tspan><tspan x="194.45" letter-spacing="0.900">30</tspan></text>
<text y="942.30" font-family="'Liberation Mono',monospace" font-size="18.50px" fill="#e030e0" stroke="#fff" stroke-width="0.40"><tspan x="236.34" textLength="23.31" lengthAdjust="spacingAndGlyphs">-</tspan><tspan x="254.45" letter-spacing="0.900">24</tspan></text>
<text y="942.30" font-family="'Liberation Mono',monospace" font-size="18.50px" fill="#e030e0" stroke="#fff" stroke-width="0.40"><tspan x="296.35" textLength="23.31" lengthAdjust="spacingAndGlyphs">-</tspan><tspan x="314.45" letter-spacing="0.900">18</tspan></text>
<text y="942.30" font-family="'Liberation Mono',monospace" font-size="18.50px" fill="#e030e0" stroke="#fff" stroke-width="0.40"><tspan x="356.35" textLength="23.31" lengthAdjust="spacingAndGlyphs">-</tspan><tspan x="374.45" letter-spacing="0.900">12</tspan></text>
<text y="942.30" font-family="'Liberation Mono',monospace" font-size="18.50px" fill="#e030e0" stroke="#fff" stroke-width="0.40"><tspan x="422.35" textLength="23.31" lengthAdjust="spacingAndGlyphs">-</tspan><tspan x="440.45" letter-spacing="0.900">6</tspan></text>
<text y="942.30" font-family="'Liberation Mono',monospace" font-size="18.50px" fill="#e030e0" stroke="#fff" stroke-width="0.40" x="488.45" letter-spacing="0.900">+0</text>
<text y="942.30" font-family="'Liberation Mono',monospace" font-size="18.50px" fill="#e030e0" stroke="#fff" stroke-width="0.40" x="548.45" letter-spacing="0.900">+6</text>
<text y="942.30" font-family="'Liberation Mono',monospace" font-size="18.50px" fill="#e030e0" stroke="#fff" stroke-width="0.40" x="602.45" letter-spacing="0.900">+12</text>
<text y="942.30" font-family="'Liberation Mono',monospace" font-size="18.50px" fill="#e030e0" stroke="#fff" stroke-width="0.40" x="662.45" letter-spacing="0.900">+18</text>
<text y="942.30" font-family="'Liberation Mono',monospace" font-size="18.50px" fill="#e030e0" stroke="#fff" stroke-width="0.40" x="722.45" letter-spacing="0.900">+24</text>
<text y="942.30" font-family="'Liberation Mono',monospace" font-size="18.50px" fill="#e030e0" stroke="#fff" stroke-width="0.40" x="782.45" letter-spacing="0.900">+30</text>
<text y="942.30" font-family="'Liberation Mono',monospace" font-size="18.50px" fill="#e030e0" stroke="#fff" stroke-width="0.40" x="842.45" letter-spacing="0.900">+36</text>
<text y="115.57" font-family="'Liberation Mono',monospace" font-size="18.50px" fill="#e030e0" stroke="#fff" stroke-width="0.40"><tspan x="643.28" textLength="23.31" lengthAdjust="spacingAndGlyphs">-</tspan><tspan x="661.38" letter-spacing="0.900">66</tspan></text>
<text y="115.57" font-family="'Liberation Mono',monospace" font-size="18.50px" fill="#e030e0" stroke="#fff" stroke-width="0.40"><tspan x="703.28" textLength="23.31" lengthAdjust="spacingAndGlyphs">-</tspan><tspan x="721.38" letter-spacing="0.900">60</tspan></text>
<text y="115.57" font-family="'Liberation Mono',monospace" font-size="18.50px" fill="#e030e0" stroke="#fff" stroke-width="0.40"><tspan x="763.28" textLength="23.31" lengthAdjust="spacingAndGlyphs">-</tspan><tspan x="781.38" letter-spacing="0.900">54</tspan></text>
<text y="115.57" font-family="'Liberation Mono',monospace" font-size="18.50px" fill="#e030e0" stroke="#fff" stroke-width="0.40"><tspan x="823.28" textLength="23.31" lengthAdjust="spacingAndGlyphs">-</tspan><tspan x="841.38" letter-spacing="0.900">48</tspan></text>
<g font-family="'DejaVu Sans Condensed','DejaVu Sans',sans-serif" font-stretch="condensed" font-size="24.5px" fill="#000" stroke="#fff" stroke-width="0.4" text-anchor="end" letter-spacing="3.0">
<text x="88.6" y="224.8">100</text>
<text x="88.6" y="348.1">150</text>
<text x="88.6" y="435.5">200</text>
<text x="88.6" y="503.4">250</text>
<text x="88.6" y="558.8">300</text>
<text x="88.6" y="714.1">500</text>
<text x="88.6" y="816.4">700</text>
<text x="88.6" y="875.4">850</text>
<text x="88.6" y="901.1">925</text>
<text x="88.6" y="924.8">1000</text>
</g>
<g fill="none" stroke-width="3.2" stroke-linejoin="miter" stroke-miterlimit="10">
<polyline stroke="#b00064" points="640.5,924.0 628.0,900.4 586.8,874.6 540.0,815.6 538.8,768.7 388.0,713.3 287.5,645.4 281.5,621.0 277.2,558.0"/>
<polyline stroke="#b00064" points="696.0,924.0 663.0,900.4 640.5,874.6 606.8,815.6 586.2,768.7 553.8,713.3 511.2,645.4 484.8,620.5 473.0,558.0 466.0,502.6 468.0,434.7 471.2,347.3 515.0,224.0 615.8,115.6 773.0,13.5 869.3,-12.0"/>
<polyline stroke="#ff2400" points="620.0,924.0 589.0,900.4 547.0,874.6 405.0,815.6 452.5,713.3 257.0,645.4 263.5,597.5 274.8,558.0"/>
<polyline stroke="#ff2400" points="690.0,924.0 658.0,900.4 636.8,874.6 603.0,815.6 578.8,768.7 533.8,713.3 492.5,645.4 446.0,600.0 451.8,558.0 456.0,502.6 468.5,434.7 478.2,347.3 536.2,224.0 582.0,147.5 645.8,115.6 771.3,12.8 836.2,-12.0"/>
<polyline stroke="#ff9000" points="617.5,924.0 573.0,900.4 500.5,874.6 390.0,815.6 363.8,768.7 454.5,713.3 304.4,645.4 316.0,597.5 329.2,558.0"/>
<polyline stroke="#ff9000" points="648.6,924.0 644.2,900.4 630.5,874.6 598.6,815.6 567.5,768.7 521.2,713.3 478.5,645.4 424.8,595.0 415.2,558.0 432.2,502.6 444.0,476.5 468.5,434.7 493.8,347.3 558.6,224.0 594.5,150.0 664.0,115.6 786.9,12.8 841.3,-12.0"/>
<polyline stroke="#f0e800" points="589.2,924.0 596.8,900.4 563.5,874.6 356.2,815.6 431.2,768.7 375.0,713.3 330.6,645.4 356.5,558.0"/>
<polyline stroke="#f0e800" points="623.0,924.0 616.0,900.4 606.8,874.6 586.0,815.6 545.0,768.7 501.2,713.3 466.2,645.4 389.2,558.0 386.5,527.5 403.5,502.6 468.0,434.7 512.5,347.3 587.0,192.5 658.3,115.6 802.5,12.5 919.1,-12.0"/>
<polyline stroke="#0838f0" points="568.6,924.0 574.9,900.4 561.8,874.6 323.8,815.6 346.2,768.7 352.5,713.3 348.0,645.4 347.8,558.0"/>
<polyline stroke="#0838f0" points="593.6,924.0 586.8,900.4 581.8,874.6 567.0,815.6 536.2,768.7 485.0,713.3 448.0,645.4 373.5,558.0 366.0,547.5 362.2,536.0 375.5,502.6 425.5,459.0 466.5,435.0 525.0,371.0 524.0,348.0 531.2,303.8 668.2,115.6 771.5,32.0 883.6,-12.0"/>
<polyline stroke="#2088ff" points="543.5,924.0 543.1,900.4 536.9,874.6 330.0,815.6 376.2,768.7 390.0,713.3 363.0,645.4 321.0,558.0"/>
<polyline stroke="#2088ff" points="579.2,924.0 562.4,900.4 556.1,874.6 553.4,815.6 470.0,713.3 422.5,645.4 364.8,558.0 358.5,502.6 411.0,456.2 461.5,434.7 524.0,372.0 527.0,357.0 530.3,347.3 600.0,224.0 690.8,115.6 785.0,30.5 881.1,-12.0"/>
<polyline stroke="#90c4ff" points="500.9,924.0 488.1,900.4 469.4,874.6 340.0,815.6 392.5,768.7 405.0,713.3 376.2,645.4 299.8,558.0"/>
<polyline stroke="#90c4ff" points="556.5,924.0 538.8,900.4 525.0,874.6 532.5,815.6 456.2,713.3 402.5,645.4 356.0,558.0 357.2,502.6 406.5,451.2 450.0,434.5 507.5,385.0 522.5,362.5 552.5,291.2 709.5,115.6 755.0,79.0 881.7,-12.0"/>
</g>
<g fill="none" stroke="#f0e800" stroke-width="1.5" stroke-linecap="butt" stroke-linejoin="miter">
<path d="M959.8 13.3 L923.0 29.0 M923.0 29.0 L909.3 14.4 M928.5 26.6 L914.9 12.0 M934.0 24.3 L920.4 9.7 M939.6 21.9 L925.9 7.3 M945.1 19.6 L938.3 12.3"/>
<path d="M959.8 115.6 L920.9 125.0 M920.9 125.0 L909.9 108.4 L926.8 123.6 M926.8 123.6 L915.7 107.0 M932.6 122.2 L921.5 105.5"/>
<path d="M959.8 224.0 L921.5 235.5 M921.5 235.5 L909.5 219.5 L927.2 233.8 M927.2 233.8 L915.3 217.8 M933.0 232.1 L921.0 216.0 M938.7 230.3 L926.8 214.3 M944.5 228.6 L932.5 212.6"/>
<path d="M959.8 347.3 L922.9 362.7 M922.9 362.7 L909.3 348.1 L928.4 360.4 M928.4 360.4 L914.9 345.7 L934.0 358.1 M934.0 358.1 L920.4 343.4"/>
<path d="M959.8 434.7 L922.1 448.2 M922.1 448.2 L909.4 432.8 L927.8 446.2 M927.8 446.2 L915.0 430.8 L933.4 444.1 M933.4 444.1 L920.7 428.8"/>
<path d="M959.8 502.6 L924.4 521.3 M924.4 521.3 L909.6 507.9 L929.7 518.5 M929.7 518.5 L914.9 505.1 L935.0 515.7"/>
<path d="M959.8 558.0 L923.9 575.6 M923.9 575.6 L909.5 561.7 L929.3 573.0 M929.3 573.0 L914.9 559.1 M934.7 570.3 L920.2 556.5 M940.0 567.7 L925.6 553.8"/>
<path d="M959.8 645.4 L920.7 653.7 M920.7 653.7 L910.1 636.7 L926.5 652.4 M926.5 652.4 L916.0 635.5 M932.4 651.2 L927.1 642.7"/>
<path d="M959.8 713.3 L922.0 726.5 M922.0 726.5 L909.4 711.0 L927.7 724.5"/>
<path d="M959.8 768.7 L923.3 785.0 M923.3 785.0 L909.4 770.6 M928.8 782.6 L914.8 768.2 M934.2 780.1 L920.3 765.7 M939.7 777.7 L925.8 763.3"/>
<path d="M959.8 815.6 L926.2 837.4 M926.2 837.4 L910.3 825.3 M931.3 834.1 L915.3 822.0 M936.3 830.8 L928.3 824.8"/>
<path d="M959.8 874.6 L953.8 914.2 M954.7 908.2 L944.9 910.2"/>
<path d="M959.8 900.4 L999.8 898.8 M999.8 898.8 L1007.3 917.3"/>
<path d="M959.8 924.0 L981.9 890.6 M978.6 895.6 L988.3 898.0"/>
</g>
<rect x="1022.8" y="279.7" width="1.2" height="1.6" fill="#e030e0"/>
<rect x="1022.8" y="339.7" width="1.2" height="1.6" fill="#e030e0"/>
<rect x="1022.8" y="399.7" width="1.2" height="1.6" fill="#e030e0"/>
<rect x="1022.8" y="459.7" width="1.2" height="1.6" fill="#e030e0"/>
<rect x="1022.8" y="519.7" width="1.2" height="1.6" fill="#e030e0"/>
<rect x="1022.8" y="579.7" width="1.2" height="1.6" fill="#e030e0"/>
<rect x="1022.8" y="639.7" width="1.2" height="1.6" fill="#e030e0"/>
<rect x="1022.8" y="699.7" width="1.2" height="1.6" fill="#e030e0"/>
<rect x="1022.8" y="759.7" width="1.2" height="1.6" fill="#e030e0"/>
<rect x="1022.8" y="587.6" width="1.2" height="1.6" fill="#4040ff"/>
<rect x="1022.8" y="686.7" width="1.2" height="1.6" fill="#4040ff"/>
<rect x="1022.8" y="761.0" width="1.2" height="1.6" fill="#4040ff"/>
<rect x="1022.8" y="853.8" width="1.2" height="1.6" fill="#4040ff"/>
<text y="23.60" font-family="'Liberation Mono',monospace" font-size="22.20px" fill="#b00064" stroke="#fff" stroke-width="0.48" x="8.04" letter-spacing="1.080">20251201T1800Z+06 +33+140/Hachijojima</text>
<text y="47.60" font-family="'Liberation Mono',monospace" font-size="22.20px" fill="#ff2400" stroke="#fff" stroke-width="0.48" x="8.04" letter-spacing="1.080">20251201T1800Z+06 +34+140/Miyakejima</text>
<text y="71.60" font-family="'Liberation Mono',monospace" font-size="22.20px" fill="#ff9000" stroke="#fff" stroke-width="0.48" x="8.04" letter-spacing="1.080">20251201T1800Z+06 +35+140/Tateyama</text>
<text y="95.60" font-family="'Liberation Mono',monospace" font-size="22.20px" fill="#f0e800" stroke="#fff" stroke-width="0.48" x="8.04" letter-spacing="1.080">20251201T1800Z+06 +36+140/Chikusei</text>
<text y="119.60" font-family="'Liberation Mono',monospace" font-size="22.20px" fill="#0838f0" stroke="#fff" stroke-width="0.48" x="8.04" letter-spacing="1.080">20251201T1800Z+06 +38+140/Aizu</text>
<text y="143.60" font-family="'Liberation Mono',monospace" font-size="22.20px" fill="#2088ff" stroke="#fff" stroke-width="0.48" x="8.04" letter-spacing="1.080">20251201T1800Z+06 +39+140/Shonai</text>
<text y="167.60" font-family="'Liberation Mono',monospace" font-size="22.20px" fill="#90c4ff" stroke="#fff" stroke-width="0.48" x="8.04" letter-spacing="1.080">20251201T1800Z+06 +40+140/Oogata</text>
</svg></body></html>
